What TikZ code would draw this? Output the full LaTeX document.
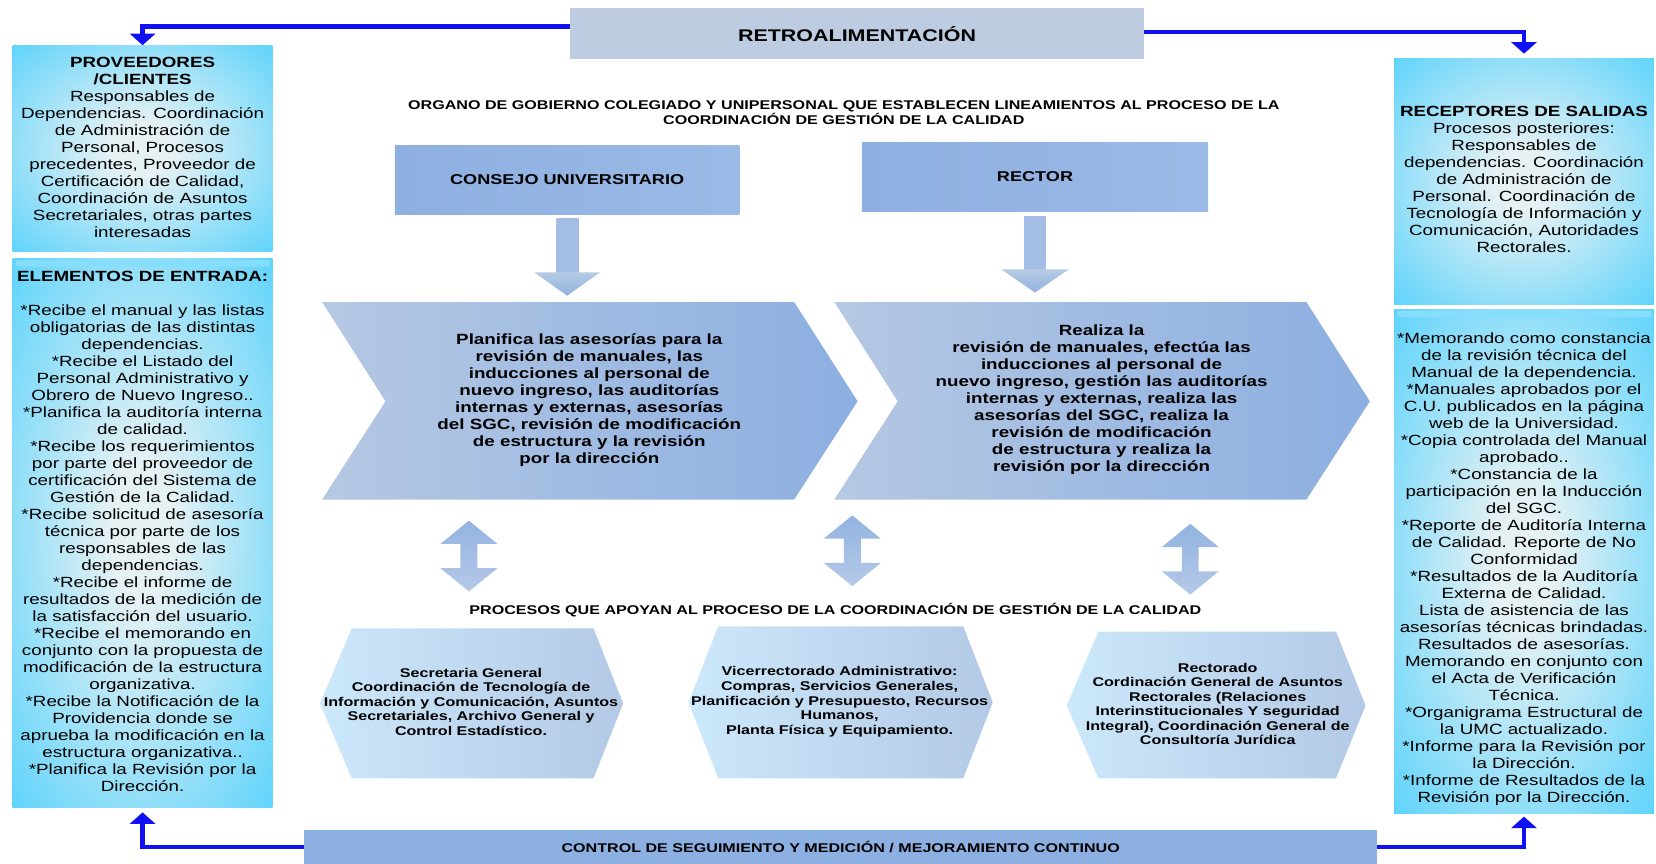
\documentclass[tikz,border=0pt]{standalone}
\usepackage{fontspec}
\setmainfont{Liberation Sans}[FakeStretch=1.27]
\usetikzlibrary{arrows.meta}
\definecolor{glowin}{HTML}{E6F1F4}
\definecolor{glowout}{HTML}{38CBFD}
\definecolor{bandcol}{HTML}{86DEFD}
\definecolor{retrocol}{HTML}{BDCCE0}
\definecolor{ctrlcol}{HTML}{8DB0E2}
\definecolor{boxL}{HTML}{8EB0E1}
\definecolor{boxR}{HTML}{9ABAE6}
\definecolor{chevL}{HTML}{B5C8E3}
\definecolor{chevR}{HTML}{8CAFE1}
\definecolor{hexL}{HTML}{CCE8FB}
\definecolor{hexR}{HTML}{B3C9E5}
\definecolor{downTop}{HTML}{A3BDE4}
\definecolor{downMid}{HTML}{EAF0EA}
\definecolor{downBot}{HTML}{93B2E0}
\definecolor{dblTop}{HTML}{93B3E1}
\definecolor{dblBot}{HTML}{B5C9E7}
\definecolor{lineblue}{HTML}{1010F2}
\pgfdeclareradialshading{sideglow}{\pgfpointorigin}{color(0bp)=(glowin); color(6bp)=(glowin); color(44bp)=(glowout); color(50bp)=(glowout)}
\begin{document}
\begin{tikzpicture}[x=1pt,y=-1pt,
  sidebox/.style={shade, shading=sideglow, draw=none, minimum width=246pt, inner sep=0pt},
  sidetext/.style={align=center, inner sep=0pt, font=\fontsize{14}{16.1}\selectfont},
  chevtext/.style={align=center, inner sep=0pt, font=\bfseries\fontsize{14}{16.1}\selectfont},
  hextext/.style={align=center, inner sep=0pt, font=\bfseries\fontsize{12}{13.8}\selectfont},
  headtext/.style={align=center, inner sep=0pt, font=\bfseries\fontsize{12}{14}\selectfont},
  topbox/.style={left color=boxL, right color=boxR, draw=none, minimum height=65pt, font=\bfseries\fontsize{13.5}{16}\selectfont},
  fb/.style={draw=lineblue, line width=4pt, -{Triangle[width=24pt,length=11pt]}},
]
\useasboundingbox (0,0) rectangle (1568,818);

% side boxes
\node[sidebox, minimum height=195pt] (prov) at (135,140.5) {};
\node[sidebox, minimum height=520pt] (entrada) at (135,505) {};
\node[sidebox, minimum height=233pt] (recep) at (1443,171.5) {};
\node[sidebox, minimum height=477pt] (salidas) at (1443,531.5) {};
\fill[bandcol, rounded corners=2pt] (15,246.5) rectangle (256,252.5);
\fill[bandcol, rounded corners=2pt] (1323,294.5) rectangle (1564,300.5);

\node[sidetext] (provtxt) at (135,140) {\textbf{PROVEEDORES}\\\textbf{/CLIENTES}\\Responsables de\\Dependencias. Coordinación\\de Administración de\\Personal, Procesos\\precedentes, Proveedor de\\Certificación de Calidad,\\Coordinación de Asuntos\\Secretariales, otras partes\\interesadas};

\node[sidetext] (entradatxt) at (135,503.5) {\textbf{ELEMENTOS DE ENTRADA:}\\\mbox{}\\*Recibe el manual y las listas\\obligatorias de las distintas\\dependencias.\\*Recibe el Listado del\\Personal Administrativo y\\Obrero de Nuevo Ingreso..\\*Planifica la auditoría interna\\de calidad.\\*Recibe los requerimientos\\por parte del proveedor de\\certificación del Sistema de\\Gestión de la Calidad.\\*Recibe solicitud de asesoría\\técnica por parte de los\\responsables de las\\dependencias.\\*Recibe el informe de\\resultados de la medición de\\la satisfacción del usuario.\\*Recibe el memorando en\\conjunto con la propuesta de\\modificación de la estructura\\organizativa.\\*Recibe la Notificación de la\\Providencia donde se\\aprueba la modificación en la\\estructura organizativa..\\*Planifica la Revisión por la\\Dirección.};

\node[sidetext] (receptxt) at (1443,169.5) {\textbf{RECEPTORES DE SALIDAS}\\Procesos posteriores:\\Responsables de\\dependencias. Coordinación\\de Administración de\\Personal. Coordinación de\\Tecnología de Información y\\Comunicación, Autoridades\\Rectorales.};

\node[sidetext] (salidastxt) at (1443,538.5) {*Memorando como constancia\\de la revisión técnica del\\Manual de la dependencia.\\*Manuales aprobados por el\\C.U. publicados en la página\\web de la Universidad.\\*Copia controlada del Manual\\aprobado..\\*Constancia de la\\participación en la Inducción\\del SGC.\\*Reporte de Auditoría Interna\\de Calidad. Reporte de No\\Conformidad\\*Resultados de la Auditoría\\Externa de Calidad.\\Lista de asistencia de las\\asesorías técnicas brindadas.\\Resultados de asesorías.\\Memorando en conjunto con\\el Acta de Verificación\\Técnica.\\*Organigrama Estructural de\\la UMC actualizado.\\*Informe para la Revisión por\\la Dirección.\\*Informe de Resultados de la\\Revisión por la Dirección.};

% top and bottom bars
\node[fill=retrocol, minimum width=543pt, minimum height=48pt, inner sep=0pt, font=\bfseries\fontsize{16}{18}\selectfont] (retro) at (811.5,32) {RETROALIMENTACIÓN};
\node[fill=ctrlcol, minimum width=1016pt, minimum height=32pt, inner sep=0pt, font=\bfseries\fontsize{12}{14}\selectfont] (ctrl) at (796,802) {CONTROL DE SEGUIMIENTO Y MEDICIÓN / MEJORAMIENTO CONTINUO};

\draw[fb] (retro.west |- 0,25) -| (prov.north);
\draw[fb, shorten >=4pt] (retro.east |- 0,30) -| (recep.north);
\draw[fb, shorten >=4pt] (ctrl.west) -| (entrada.south);
\draw[fb, shorten >=3pt] (ctrl.east) -| (salidas.south);

% header
\node[headtext] (organo) at (799,107) {ORGANO DE GOBIERNO COLEGIADO Y UNIPERSONAL QUE ESTABLECEN LINEAMIENTOS AL PROCESO DE LA\\COORDINACIÓN DE GESTIÓN DE LA CALIDAD};

\node[topbox, minimum width=326pt] (consejo) at (537,170.5) {CONSEJO UNIVERSITARIO};
\node[topbox, minimum width=328pt] (rector) at (980,167.5) {RECTOR};

% down arrows
\shade[top color=downTop, middle color=downMid, bottom color=downTop]
  (527,207) rectangle (548,258);
\shade[top color=downMid!40!downBot, bottom color=downBot]
  (506,258) -- (568,258) -- (537,280) -- cycle;
\shade[top color=downTop, middle color=downMid, bottom color=downTop]
  (970,205) rectangle (990,255);
\shade[top color=downMid!40!downBot, bottom color=downBot]
  (948,255) -- (1012,255) -- (980,277) -- cycle;

% chevrons
\shade[left color=chevL, right color=chevR] (305,286) -- (752,286) -- (812,380) -- (752,473) -- (305,473) -- (365,380) -- cycle;
\shade[left color=chevL, right color=chevR] (790,286) -- (1237,286) -- (1297,380) -- (1237,473) -- (790,473) -- (850,380) -- cycle;

\node[chevtext] (planifica) at (558,379) {Planifica las asesorías para la\\revisión de manuales, las\\inducciones al personal de\\nuevo ingreso, las auditorías\\internas y externas, asesorías\\del SGC, revisión de modificación\\de estructura y la revisión\\por la dirección};
\node[chevtext] (realiza) at (1043,378.5) {Realiza la\\revisión de manuales, efectúa las\\inducciones al personal de\\nuevo ingreso, gestión las auditorías\\internas y externas, realiza las\\asesorías del SGC, realiza la\\revisión de modificación\\de estructura y realiza la\\revisión por la dirección};

% double arrows
\foreach \x/\t in {444/493, 807/488, 1127/496}{
  \shade[top color=dblTop, bottom color=dblBot]
    (\x,\t) -- (\x+27,\t+22) -- (\x+8,\t+22) -- (\x+8,\t+45) -- (\x+27,\t+45) -- (\x,\t+67)
    -- (\x-27,\t+45) -- (\x-8,\t+45) -- (\x-8,\t+22) -- (\x-27,\t+22) -- cycle;
}

\node[headtext] (procesos) at (791,578) {PROCESOS QUE APOYAN AL PROCESO DE LA COORDINACIÓN DE GESTIÓN DE LA CALIDAD};

% hexagons
\shade[left color=hexL, right color=hexR] (333,595) -- (562,595) -- (590,666) -- (562,737) -- (333,737) -- (303,666) -- cycle;
\shade[left color=hexL, right color=hexR] (680,593) -- (912,593) -- (940,665) -- (912,737) -- (680,737) -- (652,665) -- cycle;
\shade[left color=hexL, right color=hexR] (1040,598) -- (1265,598) -- (1293,668) -- (1265,737) -- (1040,737) -- (1010,668) -- cycle;

\node[hextext] (secretaria) at (446,664.5) {Secretaria General\\Coordinación de Tecnología de\\Información y Comunicación, Asuntos\\Secretariales, Archivo General y\\Control Estadístico.};
\node[hextext] (vicerrectorado) at (795,664.5) {Vicerrectorado Administrativo:\\Compras, Servicios Generales,\\Planificación y Presupuesto, Recursos\\Humanos,\\Planta Física y Equipamiento.};
\node[hextext] (rectorado) at (1153,666.5) {Rectorado\\Cordinación General de Asuntos\\Rectorales (Relaciones\\Interinstitucionales Y seguridad\\Integral), Coordinación General de\\Consultoría Jurídica};
\end{tikzpicture}
\end{document}
